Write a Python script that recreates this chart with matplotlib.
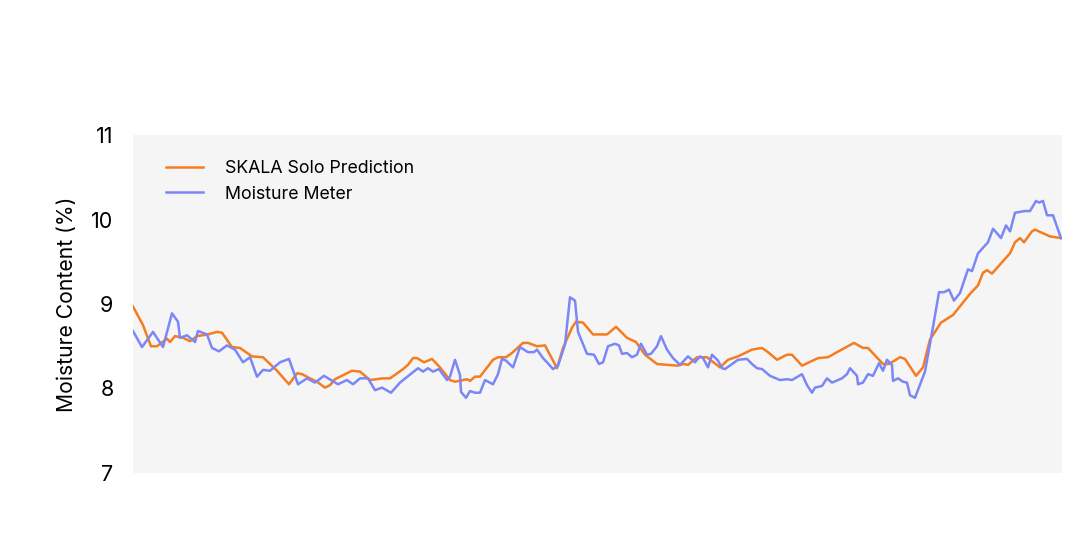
import matplotlib
matplotlib.use("Agg")
import matplotlib.pyplot as plt

plt.rcParams['font.family'] = ['Inter', 'DejaVu Sans']

# Reading number (sample index) and moisture content (%)
meter_idx = [0, 1.8, 4.0, 6.0, 7.8, 9.0, 9.4, 10.8, 12.4, 13.0, 14.8, 15.8, 17.2, 18.8, 20.4,
             22.0, 23.4, 24.8, 26.0, 27.4, 29.4, 31.2, 33.0, 34.8, 36.4, 38.2, 41.0, 42.8, 44.0,
             45.4, 47.0, 48.4, 49.8, 51.6, 53.4, 57.0, 58.0, 59.0, 60.0, 61.2, 62.8, 63.4, 64.4,
             65.4, 65.6, 66.6, 67.4, 68.4, 69.4, 70.4, 72.0, 73.0, 73.8, 74.6, 76.0, 77.4, 79.0,
             80.2, 80.8, 82.0, 82.8, 84.0, 85.0, 86.4, 87.4, 88.4, 89.0, 90.8, 92.2, 93.2, 94.0,
             95.0, 96.4, 97.2, 97.8, 98.8, 99.8, 100.8, 101.6, 102.8, 103.6, 104.8, 105.6, 106.8,
             108.0, 109.4, 111.0, 112.4, 113.4, 114.0, 115.0, 115.8, 117.0, 117.8, 118.4, 119.8,
             121.0, 122.8, 123.8, 124.8, 125.8, 127.4, 129.4, 130.8, 131.8, 133.8, 134.8, 135.8,
             136.4, 137.8, 138.8, 139.8, 141.8, 142.8, 143.4, 144.8, 145.0, 146.0, 147.0, 148.0,
             149.2, 150.0, 150.8, 151.8, 152.0, 153.0, 154.0, 154.8, 155.4, 156.4, 158.4, 159.8,
             161.2, 162.2, 163.2, 164.2, 165.4, 167.0, 167.8, 169.0, 171.0, 172.0, 172.6, 173.6,
             174.6, 175.4, 176.4, 178.4, 179.4, 180.6, 181.2, 182.0, 182.8, 184.0, 185.6]
meter_val = [8.68, 8.49, 8.67, 8.49, 8.89, 8.79, 8.60, 8.63, 8.55, 8.68, 8.64, 8.48, 8.44, 8.51, 8.46,
             8.31, 8.37, 8.14, 8.22, 8.21, 8.31, 8.35, 8.05, 8.12, 8.07, 8.15, 8.05, 8.10, 8.05,
             8.12, 8.12, 7.98, 8.01, 7.95, 8.07, 8.24, 8.20, 8.24, 8.20, 8.23, 8.10, 8.14, 8.34,
             8.16, 7.96, 7.89, 7.97, 7.95, 7.95, 8.10, 8.05, 8.17, 8.35, 8.33, 8.25, 8.49, 8.43,
             8.43, 8.46, 8.36, 8.31, 8.23, 8.27, 8.52, 9.08, 9.04, 8.67, 8.41, 8.40, 8.29, 8.31,
             8.50, 8.53, 8.51, 8.41, 8.42, 8.37, 8.40, 8.53, 8.40, 8.41, 8.50, 8.62, 8.46,
             8.36, 8.28, 8.38, 8.31, 8.38, 8.36, 8.25, 8.40, 8.33, 8.24, 8.23, 8.29,
             8.34, 8.35, 8.29, 8.24, 8.23, 8.15, 8.10, 8.11, 8.10, 8.17, 8.04, 7.95,
             8.01, 8.03, 8.12, 8.07, 8.12, 8.17, 8.24, 8.15, 8.05, 8.07, 8.17, 8.15,
             8.30, 8.21, 8.34, 8.28, 8.09, 8.12, 8.08, 8.07, 7.92, 7.89, 8.20, 8.66,
             9.14, 9.14, 9.17, 9.04, 9.13, 9.41, 9.39, 9.60, 9.73, 9.89, 9.85, 9.78,
             9.93, 9.86, 10.08, 10.10, 10.10, 10.22, 10.20, 10.22, 10.05, 10.05, 9.78]

skala_idx = [0, 2.0, 3.6, 4.8, 6.8, 7.4, 8.4, 10.0, 11.4, 12.8, 15.0, 16.8, 17.8, 19.8, 21.4, 23.8,
             26.0, 28.8, 31.2, 32.8, 33.8, 35.4, 36.8, 38.4, 39.4, 40.4, 43.8, 45.4, 47.4, 50.0,
             51.4, 53.8, 55.0, 56.0, 56.8, 58.2, 59.8, 61.4, 63.4, 64.4, 66.8, 67.4, 68.4, 69.4,
             72.0, 73.0, 74.6, 75.8, 78.0, 79.0, 80.8, 82.4, 84.8, 86.0, 87.8, 88.6, 90.0, 92.0,
             94.8, 96.6, 98.8, 100.6, 102.4, 104.8, 106.8, 109.0, 110.0, 111.0, 112.8, 114.8,
             117.4, 119.0, 121.0, 123.8, 125.8, 127.0, 128.8, 130.8, 131.8, 133.8, 137.0, 139.0,
             140.8, 144.2, 146.0, 147.0, 150.0, 151.2, 153.4, 154.4, 156.6, 158.0, 159.4, 161.6,
             164.0, 167.4, 169.0, 170.0, 170.8, 171.8, 175.4, 176.4, 177.4, 178.2, 179.8, 180.4,
             183.4, 185.6]
skala_val = [8.97, 8.75, 8.50, 8.50, 8.59, 8.55, 8.62, 8.60, 8.56, 8.62, 8.64, 8.67, 8.66, 8.49, 8.48, 8.38,
             8.37, 8.21, 8.05, 8.18, 8.17, 8.12, 8.08, 8.01, 8.04, 8.11, 8.21, 8.20, 8.10, 8.12,
             8.12, 8.22, 8.28, 8.36, 8.36, 8.31, 8.35, 8.25, 8.10, 8.08, 8.11, 8.09, 8.14, 8.14,
             8.34, 8.37, 8.37, 8.42, 8.54, 8.54, 8.50, 8.51, 8.24, 8.48, 8.72, 8.79, 8.78, 8.64,
             8.64, 8.73, 8.60, 8.55, 8.40, 8.29, 8.28, 8.27, 8.29, 8.28, 8.37, 8.37,
             8.25, 8.34, 8.38, 8.46, 8.48, 8.43, 8.34, 8.40, 8.40, 8.27, 8.36, 8.37,
             8.43, 8.54, 8.48, 8.48, 8.29, 8.29, 8.37, 8.35, 8.15, 8.25, 8.58, 8.78,
             8.87, 9.12, 9.22, 9.37, 9.40, 9.36, 9.60, 9.73, 9.78, 9.73, 9.86, 9.88,
             9.80, 9.78]

y_ticks = [7, 8, 9, 10, 11]

fig = plt.figure(figsize=(10.89, 5.56), dpi=100)
ax = fig.add_axes([133/1089, 1 - 473/556, (1062 - 133)/1089, (473 - 135)/556])
ax.set_facecolor('#f5f5f5')

ax.plot(skala_idx, skala_val, color='#f57c1f', lw=1.8, label='SKALA Solo Prediction')
ax.plot(meter_idx, meter_val, color='#7b87f7', lw=1.8, label='Moisture Meter')

ax.set_xlim(0, 185.8)
ax.set_ylim(7, 11)
ax.set_yticks(y_ticks)
ax.set_xticks([])
ax.tick_params(axis='y', length=0, pad=14, labelsize=15.5)
for s in ax.spines.values():
    s.set_visible(False)
ax.set_ylabel('Moisture Content (%)', fontsize=15.2, labelpad=10)

ax.legend(loc='upper left', bbox_to_anchor=(0.036, 0.925), frameon=False,
          borderpad=0, borderaxespad=0, fontsize=12.8, handlelength=2.05,
          handletextpad=1.25, labelspacing=0.47)

fig.savefig('out.png', dpi=100, facecolor='white')
